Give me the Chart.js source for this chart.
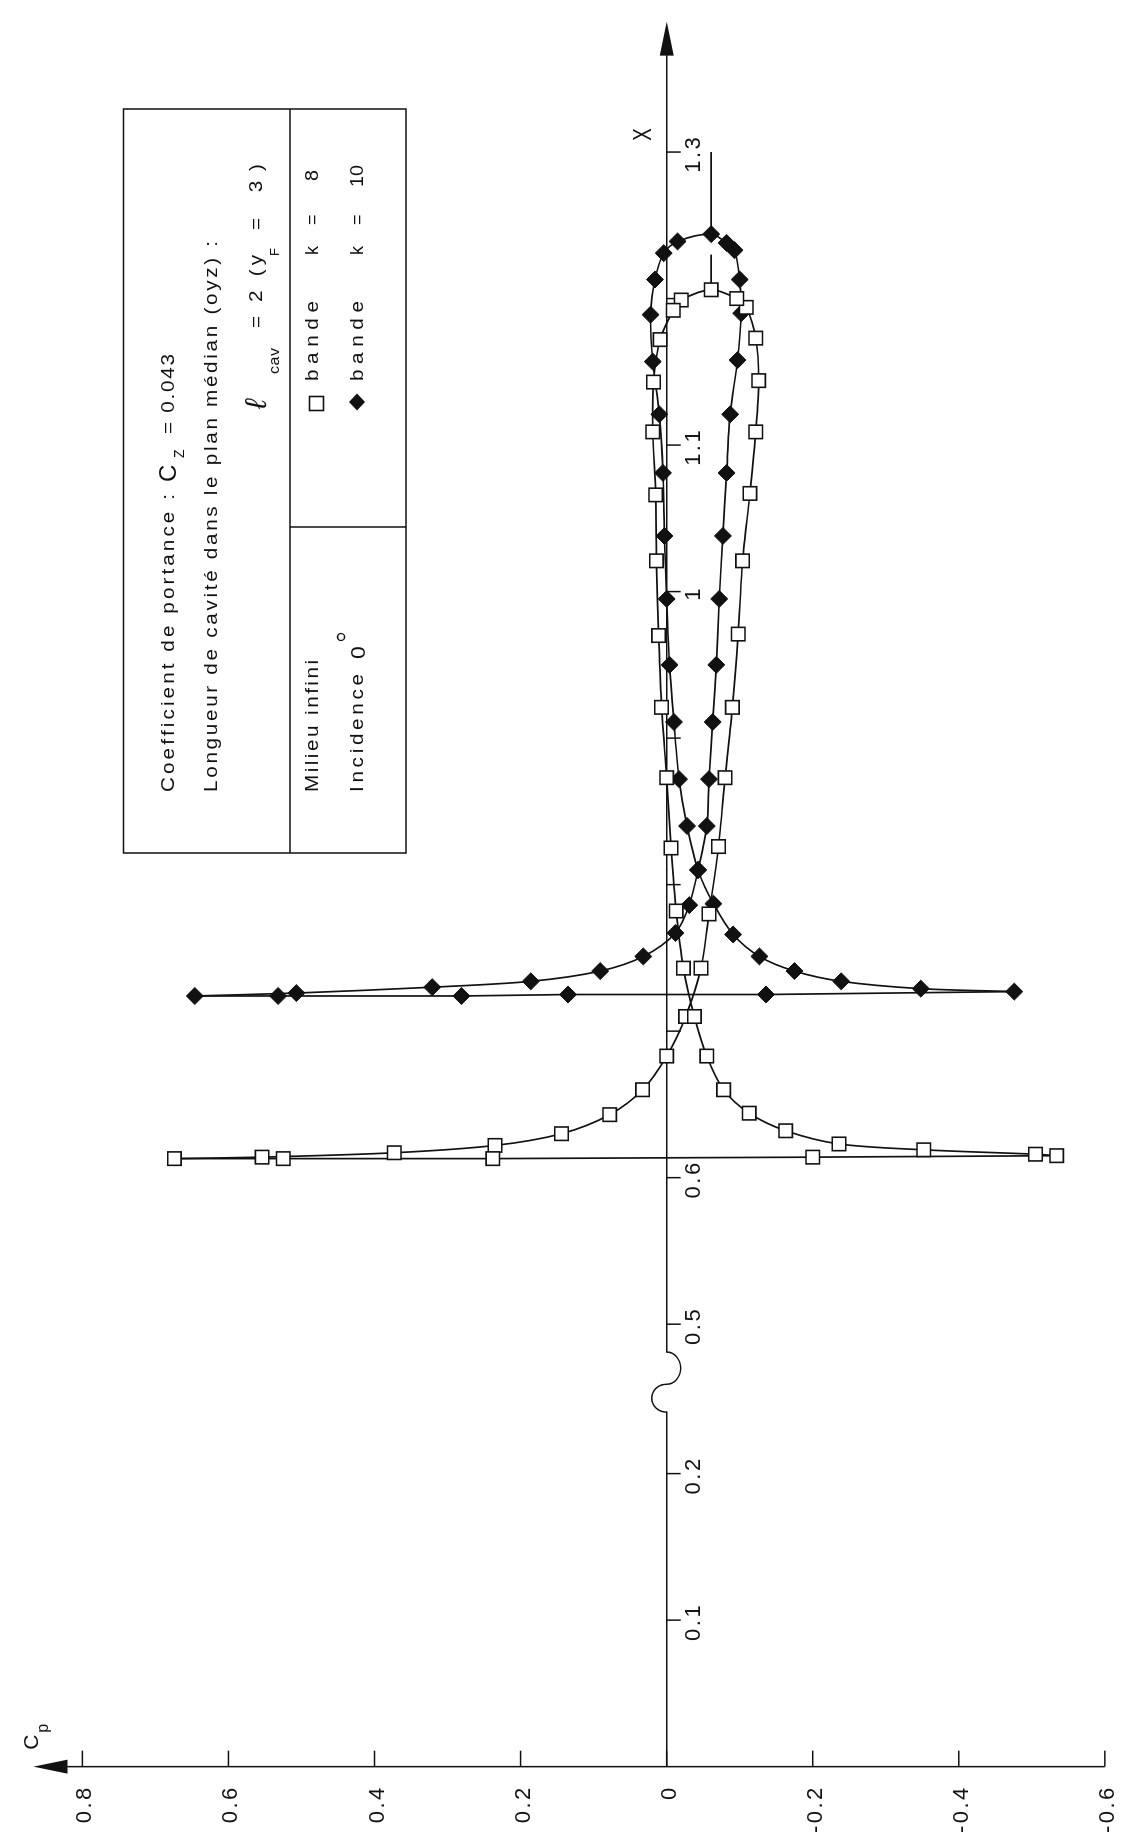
<!DOCTYPE html>
<html>
<head>
<meta charset="utf-8">
<script src="https://cdn.jsdelivr.net/npm/chart.js@4.4.0/dist/chart.umd.min.js"></script>
<style>
  html, body { margin: 0; padding: 0; background: #fff; }
  body { width: 1128px; height: 1845px; overflow: hidden; position: relative; }
  /* the figure is drawn landscape and turned a quarter turn, as in the report */
  #wrap { position: absolute; left: 0; top: 0; width: 1845px; height: 1128px;
          transform-origin: 0 0; transform: translate(0, 1845px) rotate(-90deg); }
  canvas { display: block; }
</style>
</head>
<body>
<div id="wrap"><canvas id="chart" width="1845" height="1128"></canvas></div>
<script>
const ink = "#111";
const font = "'Liberation Sans', Arial, sans-serif";

// X axis is broken between 0.2 and 0.5 : values past the break slide back
const X_SHIFT = 0.198;
function dispX(x) { return x > 0.4 ? x - X_SHIFT : x; }
const axisBreak = [0.242, 0.261, 0.283]; // start, middle, end (display units)

const xTicks = [0.1, 0.2, 0.5, 0.6, 0.7, 0.8, 0.9, 1.0, 1.1, 1.2, 1.3];
const xTickLabels = ["0.1", "0.2", "0.5", "0.6", "", "", "", "1", "1.1", "", "1.3"];
const cpTicks = [0.8, 0.6, 0.4, 0.2, 0, -0.2, -0.4, -0.6];
const cpTickLabels = ["0.8", "0.6", "0.4", "0.2", "0", "-0.2", "-0.4", "-0.6"];

// bande k = 8 (squares) - contour starting at the leading edge
const k8X = [0.613, 0.614, 0.617, 0.622, 0.630, 0.643, 0.660, 0.683, 0.710, 0.743,
  0.780, 0.826, 0.873, 0.921, 0.971, 1.021, 1.067, 1.109, 1.144, 1.173,
  1.194, 1.200, 1.206, 1.199, 1.192, 1.172, 1.143, 1.109, 1.066, 1.021,
  0.970, 0.921, 0.873, 0.825, 0.782, 0.743, 0.710, 0.683, 0.660, 0.644,
  0.632, 0.623, 0.619, 0.616, 0.615];
const k8Cp = [0.674, 0.554, 0.373, 0.235, 0.144, 0.078, 0.033, 0.000, -0.026, -0.047,
  -0.058, -0.071, -0.080, -0.090, -0.098, -0.104, -0.114, -0.122, -0.126, -0.122,
  -0.109, -0.096, -0.061, -0.020, -0.009, 0.009, 0.018, 0.019, 0.015, 0.014,
  0.011, 0.007, 0.000, -0.006, -0.013, -0.023, -0.038, -0.055, -0.078, -0.113,
  -0.163, -0.236, -0.352, -0.505, -0.534];
// leading edge points closing the k = 8 contour
const k8EdgeX = [0.615, 0.614, 0.613, 0.613, 0.613];
const k8EdgeCp = [-0.534, -0.200, 0.238, 0.525, 0.674];
const k8CavX = [1.206, 1.230];
const k8CavCp = [-0.061, -0.061];

// bande k = 10 (diamonds)
const k10X = [0.724, 0.726, 0.730, 0.734, 0.741, 0.751, 0.767, 0.786, 0.810, 0.840,
  0.872, 0.911, 0.950, 0.995, 1.038, 1.081, 1.121, 1.158, 1.190, 1.213,
  1.233, 1.238, 1.244, 1.239, 1.231, 1.213, 1.189, 1.157, 1.121, 1.081,
  1.038, 0.995, 0.950, 0.911, 0.872, 0.840, 0.810, 0.787, 0.766, 0.751,
  0.741, 0.734, 0.729, 0.727];
const k10Cp = [0.646, 0.507, 0.321, 0.186, 0.091, 0.032, -0.012, -0.031, -0.043, -0.055,
  -0.058, -0.063, -0.068, -0.072, -0.077, -0.082, -0.087, -0.097, -0.102, -0.100,
  -0.093, -0.082, -0.061, -0.015, 0.004, 0.016, 0.022, 0.019, 0.010, 0.005,
  0.003, 0.000, -0.004, -0.010, -0.017, -0.028, -0.043, -0.064, -0.091, -0.127,
  -0.175, -0.239, -0.348, -0.476];
const k10EdgeX = [0.727, 0.725, 0.725, 0.724, 0.724, 0.724];
const k10EdgeCp = [-0.476, -0.136, 0.135, 0.281, 0.532, 0.646];
const k10CavX = [1.244, 1.300];
const k10CavCp = [-0.061, -0.061];

function pts(xs, ys) {
  return xs.map((x, i) => ({ x: dispX(x), y: ys[i] }));
}

function lineSet(xs, ys, tension) {
  return { data: pts(xs, ys), showLine: true, tension: tension, borderColor: ink,
           borderWidth: 1.7, pointRadius: 0, fill: false };
}

// lettering: widen the glyphs a little, then open the spacing to fill the width
function spaced(ctx, str, x, y, width, stretch) {
  const chars = [...str];
  const natural = chars.reduce((s, c) => s + ctx.measureText(c).width, 0);
  const sx = Math.min(stretch || 1.15, width / natural);
  const gap = chars.length > 1 ? (width / sx - natural) / (chars.length - 1) : 0;
  ctx.save();
  ctx.translate(x, y);
  ctx.scale(sx, 1);
  let cx = 0;
  chars.forEach(c => { ctx.fillText(c, cx, 0); cx += ctx.measureText(c).width + gap; });
  ctx.restore();
}
function tracked(ctx, str, x, y, gap, align) {
  const chars = [...str];
  const w = chars.reduce((s, c) => s + ctx.measureText(c).width, 0) + gap * (chars.length - 1);
  let cx = align === "right" ? x - w : align === "center" ? x - w / 2 : x;
  chars.forEach(c => { ctx.fillText(c, cx, y); cx += ctx.measureText(c).width + gap; });
}

const axesPlugin = {
  id: "axes",
  beforeDatasetsDraw(chart) {
    const ctx = chart.ctx, xs = chart.scales.x, ys = chart.scales.y;
    const x0 = xs.getPixelForValue(0), y0 = ys.getPixelForValue(0);
    ctx.save();
    ctx.strokeStyle = ink; ctx.fillStyle = ink; ctx.lineWidth = 1.5;

    // Cp axis (arrow towards positive Cp)
    const cpTip = ys.getPixelForValue(0.867);
    ctx.beginPath();
    ctx.moveTo(x0, cpTip + 30);
    ctx.lineTo(x0, ys.getPixelForValue(-0.6));
    ctx.stroke();
    ctx.beginPath();
    ctx.moveTo(x0, cpTip); ctx.lineTo(x0 - 7, cpTip + 34); ctx.lineTo(x0 + 7, cpTip + 34);
    ctx.closePath(); ctx.fill();

    ctx.font = "22px " + font;
    ctx.textBaseline = "alphabetic";
    cpTicks.forEach((v, i) => {
      const py = ys.getPixelForValue(v);
      ctx.beginPath(); ctx.moveTo(x0, py); ctx.lineTo(x0 + 16, py); ctx.stroke();
      tracked(ctx, cpTickLabels[i], x0 - 21, py + 9, 2.5, "right");
    });
    ctx.font = "21px " + font;
    ctx.fillText("C", x0 + 17, cpTip + 5);
    ctx.font = "16px " + font;
    ctx.fillText("p", x0 + 34, cpTip + 15);

    // X axis with its break and arrow
    const b0 = xs.getPixelForValue(axisBreak[0]);
    const b1 = xs.getPixelForValue(axisBreak[1]);
    const b2 = xs.getPixelForValue(axisBreak[2]);
    const xTip = xs.getPixelForValue(dispX(1.389));
    ctx.beginPath();
    ctx.moveTo(x0, y0); ctx.lineTo(b0, y0);
    ctx.ellipse((b0 + b1) / 2, y0, (b1 - b0) / 2, 15, 0, Math.PI, 2 * Math.PI, false);
    ctx.ellipse((b1 + b2) / 2, y0, (b2 - b1) / 2, 14, 0, Math.PI, 0, true);
    ctx.lineTo(xTip - 30, y0);
    ctx.stroke();
    ctx.beginPath();
    ctx.moveTo(xTip, y0); ctx.lineTo(xTip - 34, y0 - 7); ctx.lineTo(xTip - 34, y0 + 7);
    ctx.closePath(); ctx.fill();

    ctx.font = "22px " + font;
    xTicks.forEach((v, i) => {
      const px = xs.getPixelForValue(dispX(v));
      ctx.beginPath(); ctx.moveTo(px, y0); ctx.lineTo(px, y0 + 14); ctx.stroke();
      if (xTickLabels[i]) tracked(ctx, xTickLabels[i], px - 3, y0 + 33, 2.5, "center");
    });
    ctx.save();
    ctx.translate(xTip - 119, y0 - 16);
    ctx.scale(0.75, 1);
    ctx.font = "25px " + font;
    ctx.fillText("X", 0, 0);
    ctx.restore();
    ctx.restore();
  }
};

const boxPlugin = {
  id: "box",
  afterDatasetsDraw(chart) {
    const ctx = chart.ctx;
    ctx.save();
    ctx.strokeStyle = ink; ctx.fillStyle = ink; ctx.lineWidth = 1.5;
    ctx.strokeRect(992, 123.5, 744, 282.5);
    ctx.beginPath();
    ctx.moveTo(992, 290); ctx.lineTo(1736, 290);
    ctx.moveTo(1318, 290); ctx.lineTo(1318, 406);
    ctx.stroke();

    ctx.textBaseline = "alphabetic";
    ctx.font = "18px " + font;
    spaced(ctx, "Coefficient de portance :", 1053, 174, 298);
    ctx.font = "24px " + font;
    ctx.fillText("C", 1363, 176);
    ctx.font = "14px " + font;
    ctx.fillText("Z", 1387, 184);
    ctx.font = "18px " + font;
    spaced(ctx, "= 0.043", 1411, 174, 80);
    spaced(ctx, "Longueur de cavité dans le plan médian (oyz) :", 1053, 217, 551);

    ctx.font = "italic 30px " + font;
    ctx.fillText("\u2113", 1436, 266);
    ctx.font = "14px " + font;
    spaced(ctx, "cav", 1471, 279, 26);
    ctx.font = "18px " + font;
    spaced(ctx, "= 2 (y", 1517, 262, 73);
    ctx.font = "13px " + font;
    ctx.fillText("F", 1589, 279);
    ctx.font = "18px " + font;
    spaced(ctx, "= 3)", 1615, 262, 66);

    spaced(ctx, "Milieu infini", 1053, 318, 132);
    spaced(ctx, "Incidence", 1053, 363, 118);
    ctx.font = "20px " + font;
    spaced(ctx, "0", 1186, 365, 17);
    ctx.lineWidth = 1.3;
    ctx.beginPath(); ctx.arc(1208, 341, 3.5, 0, 2 * Math.PI); ctx.stroke();

    // series keys
    ctx.lineWidth = 1.6;
    ctx.fillStyle = "#fff";
    ctx.fillRect(1434.5, 309.5, 14, 14);
    ctx.strokeRect(1434.5, 309.5, 14, 14);
    ctx.fillStyle = ink;
    ctx.beginPath();
    ctx.moveTo(1434.5, 357); ctx.lineTo(1443, 349); ctx.lineTo(1451.5, 357); ctx.lineTo(1443, 365);
    ctx.closePath(); ctx.fill();
    ctx.font = "18px " + font;
    [[318, "8"], [363, "10"]].forEach(([y, k]) => {
      spaced(ctx, "bande", 1464, y, 80);
      ctx.fillText("k", 1590, y);
      ctx.fillText("=", 1620, y);
      spaced(ctx, k, k === "8" ? 1664 : 1658, y, k === "8" ? 11 : 22);
    });
    ctx.restore();
  }
};

const k8Marks = pts(k8X.concat(k8EdgeX.slice(1, -1)), k8Cp.concat(k8EdgeCp.slice(1, -1)));
const k10Marks = pts(k10X.concat(k10EdgeX.slice(1, -1)), k10Cp.concat(k10EdgeCp.slice(1, -1)));

new Chart(document.getElementById("chart"), {
  type: "scatter",
  data: {
    datasets: [
      { label: "bande k = 8", data: k8Marks, pointStyle: "rect", pointRadius: 9.5,
        pointBackgroundColor: "#fff", pointBorderColor: ink, pointBorderWidth: 1.6 },
      { label: "bande k = 10", data: k10Marks, pointStyle: "rectRot", pointRadius: 8.5,
        pointBackgroundColor: ink, pointBorderColor: ink, pointBorderWidth: 1 },
      lineSet(k8X, k8Cp, 0.3),
      lineSet(k8EdgeX, k8EdgeCp, 0),
      lineSet(k8CavX, k8CavCp, 0),
      lineSet(k10X, k10Cp, 0.3),
      lineSet(k10EdgeX, k10EdgeCp, 0),
      lineSet(k10CavX, k10CavCp, 0)
    ]
  },
  options: {
    responsive: false,
    animation: false,
    devicePixelRatio: 1,
    layout: { padding: 0 },
    plugins: { legend: { display: false }, tooltip: { enabled: false } },
    scales: {
      x: { type: "linear", display: false, min: -0.0459, max: 1.1982 },
      y: { type: "linear", display: false, min: -0.6165, max: 0.8976 }
    }
  },
  plugins: [axesPlugin, boxPlugin]
});
</script>
</body>
</html>
